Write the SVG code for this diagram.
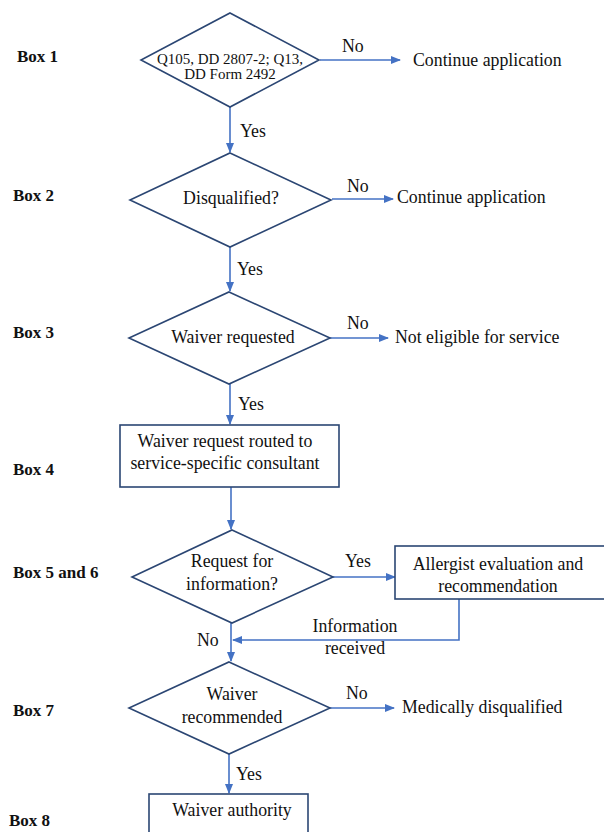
<svg xmlns="http://www.w3.org/2000/svg" width="604" height="832" viewBox="0 0 604 832">
<style>
text{font-family:"Liberation Serif","Times New Roman",serif;font-size:17.8px;fill:#111}
.lbl{font-weight:bold;font-size:17px}
.c{text-anchor:middle}
.shape{fill:#fff;stroke:#2b4673;stroke-width:1.6}
.conn{fill:none;stroke:#4472c4;stroke-width:1.6}
.sm{font-size:15px}
</style>
<defs>
<marker id="ah" markerWidth="10" markerHeight="8" refX="9" refY="4" orient="auto" markerUnits="userSpaceOnUse">
<path d="M0,0 L10,4 L0,8 Z" fill="#4472c4"/>
</marker>
</defs>
<rect width="604" height="832" fill="#fff"/>
<g id="labels">
<text class="lbl" x="17" y="62">Box 1</text>
<text class="lbl" x="13" y="201">Box 2</text>
<text class="lbl" x="13" y="338">Box 3</text>
<text class="lbl" x="13" y="475">Box 4</text>
<text class="lbl" x="13" y="578">Box 5 and 6</text>
<text class="lbl" x="13" y="716">Box 7</text>
<text class="lbl" x="9" y="826">Box 8</text>
</g>
<g id="connectors">
<path class="conn" d="M320,60 H400" marker-end="url(#ah)"/>
<path class="conn" d="M230,107 V152" marker-end="url(#ah)"/>
<path class="conn" d="M332,199 H393" marker-end="url(#ah)"/>
<path class="conn" d="M230,246 V291" marker-end="url(#ah)"/>
<path class="conn" d="M330,338 H388" marker-end="url(#ah)"/>
<path class="conn" d="M230,384 V424" marker-end="url(#ah)"/>
<path class="conn" d="M231,487 V529" marker-end="url(#ah)"/>
<path class="conn" d="M333,577 H395" marker-end="url(#ah)"/>
<path class="conn" d="M459,599 V640 H233" marker-end="url(#ah)"/>
<path class="conn" d="M231,623 V661" marker-end="url(#ah)"/>
<path class="conn" d="M330,708 H394" marker-end="url(#ah)"/>
<path class="conn" d="M229,754 V793" marker-end="url(#ah)"/>
</g>
<g id="edge-labels">
<text x="342" y="52">No</text>
<text x="240" y="137">Yes</text>
<text x="347" y="192">No</text>
<text x="237" y="275">Yes</text>
<text x="347" y="329">No</text>
<text x="238" y="410">Yes</text>
<text x="345" y="567">Yes</text>
<text class="c" x="355" y="632">Information</text>
<text class="c" x="355" y="654">received</text>
<text x="197" y="646">No</text>
<text x="346" y="699">No</text>
<text x="236" y="780">Yes</text>
</g>
<g id="box1">
<polygon class="shape" points="230,13 319,60 230,107 141,60"/>
<text class="c sm" x="230" y="64">Q105, DD 2807-2; Q13,</text>
<text class="c sm" x="230" y="79">DD Form 2492</text>
</g>
<g id="box1-no"><text x="413" y="66">Continue application</text></g>
<g id="box2">
<polygon class="shape" points="230,153 331,200 230,247 130,200"/>
<text class="c" x="231" y="204">Disqualified?</text>
</g>
<g id="box2-no"><text x="397" y="203">Continue application</text></g>
<g id="box3">
<polygon class="shape" points="229,292 330,338 229,384 129,338"/>
<text class="c" x="233" y="343">Waiver requested</text>
</g>
<g id="box3-no"><text x="395" y="343">Not eligible for service</text></g>
<g id="box4">
<rect class="shape" x="120" y="425" width="219" height="62"/>
<text class="c" x="225" y="447">Waiver request routed to</text>
<text class="c" x="225" y="469">service-specific consultant</text>
</g>
<g id="box5">
<polygon class="shape" points="232,530 333,577 232,623 132,577"/>
<text class="c" x="232" y="567">Request for</text>
<text class="c" x="232" y="590">information?</text>
</g>
<g id="box6">
<rect class="shape" x="395" y="546" width="210" height="53"/>
<text class="c" x="498" y="570">Allergist evaluation and</text>
<text class="c" x="498" y="592">recommendation</text>
</g>
<g id="box7">
<polygon class="shape" points="229,662 330,708 229,754 129,708"/>
<text class="c" x="232" y="700">Waiver</text>
<text class="c" x="232" y="723">recommended</text>
</g>
<g id="box7-no"><text x="402" y="713">Medically disqualified</text></g>
<g id="box8">
<rect class="shape" x="149" y="794" width="159" height="50"/>
<text class="c" x="232" y="816">Waiver authority</text>
</g>
</svg>
